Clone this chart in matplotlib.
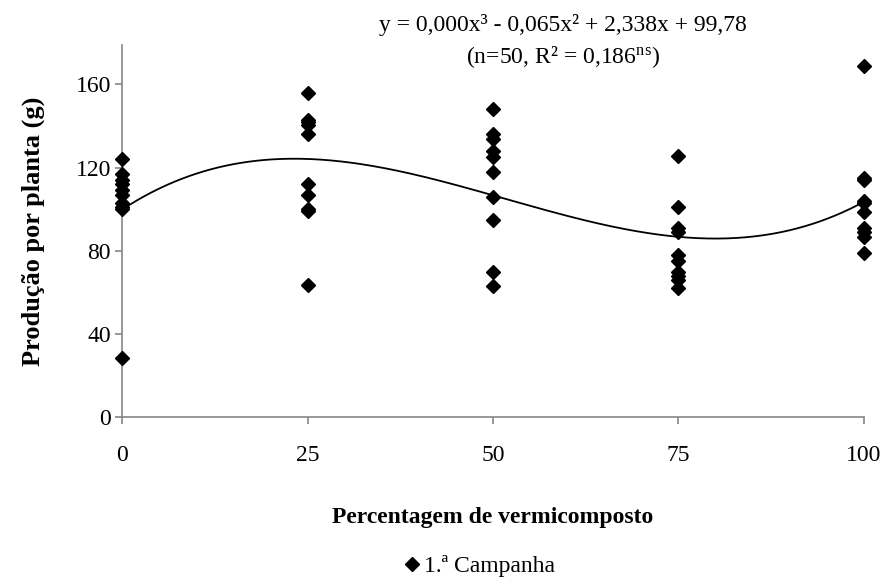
import numpy as np
import matplotlib
matplotlib.use("Agg")
import matplotlib.pyplot as plt
from matplotlib.lines import Line2D

plt.rcParams['font.family'] = ['Liberation Serif', 'DejaVu Serif']
plt.rcParams['mathtext.fontset'] = 'custom'
plt.rcParams['mathtext.rm'] = 'Liberation Serif'
plt.rcParams['mathtext.it'] = 'Liberation Serif:italic'
plt.rcParams['mathtext.bf'] = 'Liberation Serif:bold'

# Data
x_levels = [0, 25, 50, 75, 100]
y_0 = [124, 117, 114, 112, 109, 107, 103, 101, 100, 28.5]
y_25 = [156, 143, 142, 140.5, 136, 112, 107, 100, 99, 63.5]
y_50 = [148, 136, 134, 128, 125, 118, 106, 95, 70, 63]
y_75 = [125.5, 101, 91, 89, 78, 75, 70, 68, 66, 62]
y_100 = [169, 115, 114, 104, 103, 98.5, 91, 89, 86.5, 79]
groups = [y_0, y_25, y_50, y_75, y_100]

# Trend line coefficients (cubic, c3 shown as 0,000 in the label)
coef = [0.00042, -0.065, 2.338, 99.78]

yticks = [0, 40, 80, 120, 160]
xticks = [0, 25, 50, 75, 100]

FS = 17

fig = plt.figure(figsize=(8.86, 5.78), dpi=100)
ax = fig.add_axes([122/886, 1-417/578, (864-122)/886, (417-45)/578])

for xv, ys in zip(x_levels, groups):
    ax.plot([xv]*len(ys), ys, linestyle='none', marker='D', markersize=7.5,
            color='black', clip_on=False, zorder=3)

xs = np.linspace(0, 100, 300)
ax.plot(xs, np.polyval(coef, xs), color='black', linewidth=1.3, zorder=2)

ax.set_xlim(0, 100)
ax.set_ylim(0, 179)
ax.set_xticks(xticks)
ax.set_yticks(yticks)
ax.tick_params(axis='both', labelsize=FS, color='#868686', direction='out', length=5, width=1.2)
ax.tick_params(axis='x', pad=15)
ax.tick_params(axis='y', pad=3)
for s in ['top', 'right']:
    ax.spines[s].set_visible(False)
for s in ['left', 'bottom']:
    ax.spines[s].set_color('#868686')
    ax.spines[s].set_linewidth(1.2)

ax.set_xlabel('Percentagem de vermicomposto', fontsize=FS, fontweight='bold', labelpad=30)
ax.set_ylabel('Produção por planta (g)', fontsize=19, fontweight='bold', labelpad=22)

fig.text(563/886, 1-25/578, 'y = 0,000x³ - 0,065x² + 2,338x + 99,78',
         ha='center', va='center', fontsize=FS)
fig.text(563/886, 1-57/578, r'(n=50, R² = 0,186$^{\mathrm{ns}}$)',
         ha='center', va='center', fontsize=FS)

handle = Line2D([], [], linestyle='none', marker='D', markersize=7, color='black')
fig.legend([handle], ['1.ª Campanha'], loc='center', bbox_to_anchor=(478/886, 1-566/578),
           frameon=False, fontsize=FS, handletextpad=0.0, handlelength=1.0)

fig.savefig('out.png', dpi=100)
